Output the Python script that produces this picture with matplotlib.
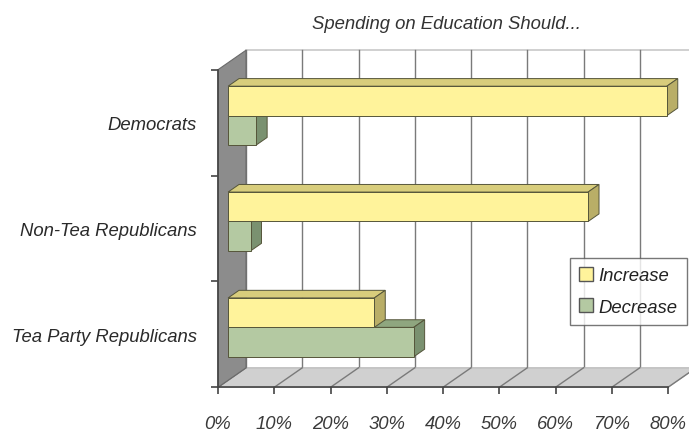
import matplotlib
matplotlib.use("Agg")
import matplotlib.pyplot as plt
from matplotlib.patches import Polygon, Patch
from matplotlib import font_manager

categories = ["Tea Party Republicans", "Non-Tea Republicans", "Democrats"]
increase = [26, 64, 78]
decrease = [33, 4, 5]
xticks = [0, 10, 20, 30, 40, 50, 60, 70, 80]
xticklabels = ["0%", "10%", "20%", "30%", "40%", "50%", "60%", "70%", "80%"]
title = "Spending on Education Should..."
series_names = ["Increase", "Decrease"]

names = {f.name for f in font_manager.fontManager.ttflist}
if "Liberation Sans Narrow" in names:
    FAM = ["Liberation Sans Narrow", "DejaVu Sans"]
    FS = 14.5
else:
    FAM = ["Liberation Sans", "DejaVu Sans"]
    FS = 13.3

fig = plt.figure(figsize=(6.89, 4.39), dpi=100)
ax = fig.add_axes([218/689, 1-388.3/439, 450/689, 317.6/439])
ax.set_xlim(0, 80)
ax.set_ylim(0, 3)
for s in ax.spines.values():
    s.set_visible(False)

DX = 4.98      # depth offset in x data units
DY = 0.184     # depth offset in y data units
F0 = 0.36      # bar front depth fraction
FD = 0.39      # bar depth fraction
H = 0.278      # bar height

grid_c = "#7a7a7a"
# back wall
ax.add_patch(Polygon([(DX, DY), (80 + DX, DY), (80 + DX, 3 + DY), (DX, 3 + DY)],
                     closed=True, facecolor="white", edgecolor="none", clip_on=False, zorder=0))
ax.plot([DX, 80 + DX + 5], [3 + DY, 3 + DY], color="#c8c8c8", lw=1.2, clip_on=False, zorder=1)
for t in xticks:
    ax.plot([t + DX, t + DX], [DY, 3 + DY], color=grid_c, lw=1.0, clip_on=False, zorder=1)
# floor
ax.add_patch(Polygon([(0, 0), (80, 0), (80 + DX, DY), (DX, DY)], closed=True,
                     facecolor="#d0d0d0", edgecolor="#b4b4b4", lw=0.8, clip_on=False, zorder=1))
for t in xticks:
    ax.plot([t, t + DX], [0, DY], color=grid_c, lw=1.0, clip_on=False, zorder=1.5)
# left wall
ax.add_patch(Polygon([(0, 0), (0, 3), (DX, 3 + DY), (DX, DY)], closed=True,
                     facecolor="#8c8c8c", edgecolor="#6a6a6a", lw=0.8, clip_on=False, zorder=1.6))

# axes lines and ticks
ax.plot([0, 80], [0, 0], color="#444444", lw=1.2, clip_on=False, zorder=2)
ax.plot([0, 0], [0, 3], color="#444444", lw=1.2, clip_on=False, zorder=2)
ax.set_xticks(xticks)
ax.set_xticklabels(xticklabels, fontsize=FS, style="italic", family=FAM, color="#3a3a3a")
ax.set_yticks([0, 1, 2, 3])
ax.set_yticklabels([])
ax.tick_params(axis="x", length=5, width=1.2, color="#444444", pad=15)
ax.tick_params(axis="y", length=5, width=1.2, color="#444444")
for i, c in enumerate(categories):
    ax.text(-3.8, i + 0.48, c, ha="right", va="center",
            fontsize=FS, style="italic", family=FAM, color="#2a2a2a")

styles = {
    "Increase": ("#fff39b", "#d8cd7c", "#b9ae67"),
    "Decrease": ("#b4c9a2", "#8fa67f", "#7a9170"),
}
edge = "#55553a"

def bar3d(y0, val, colors, z):
    front, top, side = colors
    ox, oy = F0 * DX, F0 * DY
    bx, by = FD * DX, FD * DY
    b = ax.barh(y0 + oy, val, height=H, left=ox, align="edge", color=front,
                edgecolor=edge, lw=0.7, zorder=z + 0.2)
    for p in b:
        p.set_clip_on(False)
    x0, x1 = ox, ox + val
    yt = y0 + oy + H
    yb = y0 + oy
    ax.add_patch(Polygon([(x0, yt), (x1, yt), (x1 + bx, yt + by), (x0 + bx, yt + by)],
                         closed=True, facecolor=top, edgecolor=edge, lw=0.7, zorder=z,
                         clip_on=False))
    ax.add_patch(Polygon([(x1, yb), (x1, yt), (x1 + bx, yt + by), (x1 + bx, yb + by)],
                         closed=True, facecolor=side, edgecolor=edge, lw=0.7, zorder=z,
                         clip_on=False))

for i in range(len(categories)):
    c = i + 0.5
    bar3d(c - H, decrease[i], styles["Decrease"], 3 + i)
    bar3d(c, increase[i], styles["Increase"], 3.5 + i)

ax.set_title(title, fontsize=FS, style="italic", family=FAM, color="#333333", pad=30,
             x=0.508)

handles = [Patch(facecolor=styles[n][0], edgecolor="#555555", lw=1.0) for n in series_names]
leg = ax.legend(handles, series_names, loc="upper left", bbox_to_anchor=(570/689, 1-259/439),
                bbox_transform=fig.transFigure, frameon=True, fancybox=False,
                prop={"family": FAM, "size": FS, "style": "italic"},
                handlelength=0.75, handleheight=0.75, handletextpad=0.3,
                borderpad=0.5, labelspacing=0.75, borderaxespad=0)
leg.get_frame().set_edgecolor("#555555")
leg.get_frame().set_linewidth(1.0)
leg.set_zorder(20)
for t in leg.get_texts():
    t.set_color("#222222")

fig.savefig("out.png", dpi=100)
